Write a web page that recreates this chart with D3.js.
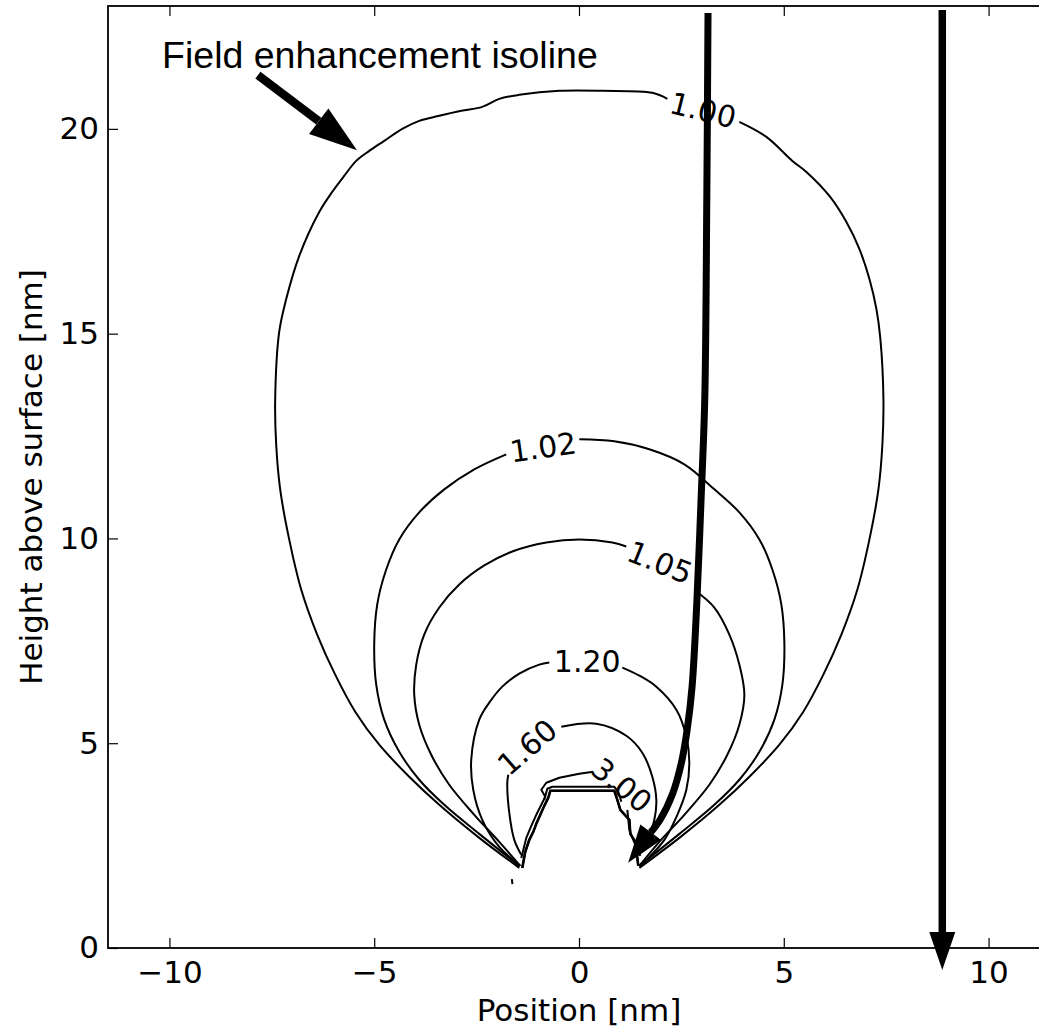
<!DOCTYPE html>
<html>
<head>
<meta charset="utf-8">
<script src="https://cdn.jsdelivr.net/npm/d3@7"></script>
<style>
  body { margin: 0; background: #fff; }
  text { font-family: "DejaVu Sans", sans-serif; fill: #000; }
</style>
</head>
<body>
<div id="chart"></div>
<script>
// ---- data (nm) ----
const xTicks = [-10, -5, 0, 5, 10];
const yTicks = [0, 5, 10, 15, 20];

// isolines, each one split where its label sits
const contour100 = [
  [[-1.458,1.956],[-2.435,2.689],[-3.412,3.496],[-4.145,4.181],[-4.878,4.963],[-5.464,5.770],[-5.953,6.675],
   [-6.393,7.653],[-6.783,8.753],[-7.076,9.976],[-7.296,11.198],[-7.394,12.298],[-7.418,13.399],[-7.321,15.037],
   [-7.149,15.844],[-6.832,16.895],[-6.343,17.971],[-6.026,18.460],[-5.733,18.851],[-5.440,19.218],[-5.122,19.462],
   [-4.756,19.707],[-4.316,20.000],[-3.901,20.196],[-3.412,20.318],[-2.875,20.440],[-2.362,20.538],[-1.947,20.733],
   [-1.458,20.831],[-0.481,20.929],[0.569,20.929],[1.790,20.880],[2.157,20.733]],
  [[3.915,20.171],[4.575,19.804],[5.210,19.218],[5.552,18.949],[6.114,18.362],[6.529,17.726],[6.847,17.066],
   [7.091,16.333],[7.262,15.599],[7.359,14.866],[7.433,13.399],[7.408,12.298],[7.311,11.198],[7.091,9.976],
   [6.797,8.753],[6.406,7.653],[5.966,6.675],[5.477,5.770],[4.893,4.963],[4.160,4.181],[3.427,3.496],
   [2.450,2.689],[1.473,1.956]]
];
const contour102 = [
  [[-1.458,2.005],[-2.435,2.787],[-3.290,3.496],[-3.901,4.108],[-4.389,4.792],[-4.756,5.575],[-4.951,6.430],
   [-5.000,7.408],[-4.927,8.386],[-4.707,9.242],[-4.389,9.976],[-3.901,10.636],[-3.290,11.198],[-2.557,11.687],
   [-1.776,12.054]],
  [[0.007,12.421],[0.862,12.372],[1.717,12.176],[2.572,11.809],[3.305,11.198],[3.915,10.636],[4.404,9.976],
   [4.721,9.242],[4.941,8.386],[5.015,7.408],[4.966,6.430],[4.770,5.575],[4.404,4.792],[3.915,4.108],
   [3.305,3.496],[2.450,2.787],[1.473,2.005]]
];
const contour105 = [
  [[-1.434,2.005],[-1.947,2.592],[-2.557,3.252],[-3.168,3.985],[-3.608,4.719],[-3.901,5.452],[-4.023,6.186],
   [-3.974,6.919],[-3.779,7.653],[-3.412,8.313],[-2.924,8.875],[-2.313,9.340],[-1.629,9.682],[-0.799,9.902],
   [0.007,9.976],[0.813,9.902],[1.155,9.804]],
  [[2.865,8.704],[3.305,8.313],[3.671,7.653],[3.915,6.919],[4.038,6.186],[3.915,5.452],[3.622,4.719],
   [3.183,3.985],[2.572,3.252],[1.961,2.592],[1.473,2.005]]
];
const contour120 = [
  [[-1.434,2.005],[-1.947,2.469],[-2.362,3.130],[-2.582,3.863],[-2.631,4.597],[-2.435,5.575],[-2.191,5.990],
   [-1.873,6.381],[-1.458,6.699],[-0.970,6.919],[-0.725,6.968]],
  [[1.058,6.846],[1.473,6.650],[1.888,6.381],[2.377,5.819],[2.621,5.159],[2.694,4.523],[2.621,3.863],
   [2.401,3.252],[2.084,2.641],[1.717,2.225],[1.473,2.005]]
];
const contour160 = [
  [[-1.409,2.274],[-1.580,2.641],[-1.702,3.301],[-1.751,4.034],[-1.727,4.230]],
  [[-0.432,5.403],[0.423,5.477],[1.155,5.183],[1.546,4.768],[1.790,4.181],[1.888,3.619],[1.839,3.130],
   [1.668,2.641],[1.473,2.274]]
];
const contour300 = [
  [[-1.409,2.200],[-1.287,2.689],[-1.165,2.983],[-1.043,3.252],[-0.921,3.496],[-0.823,3.692],[-0.921,3.863],
   [-0.799,4.034],[-0.481,4.156],[0.007,4.254],[0.349,4.303]],
  [[1.180,3.374],[1.229,2.885],[1.375,2.518],[1.497,2.250]]
];
// the tip outline (highest levels, unlabelled)
const contourTip = [
  [[-1.385,1.956],[-1.312,2.347],[-1.214,2.641],[-1.116,2.836],[-1.043,3.032],[-0.945,3.252],[-0.848,3.472],
   [-0.750,3.668],[-0.701,3.839],[0.862,3.839],[0.936,3.619],[1.009,3.374],[1.229,3.130],[1.253,2.788],
   [1.375,2.592],[1.448,2.005]],
  [[-0.848,3.619],[-0.774,3.888],[-0.652,3.936],[0.862,3.936],[0.960,3.814],[1.035,3.570]],
  [[-1.640,1.680],[-1.625,1.560]]
];

const contourLabels = [
  { text: "1.00", x: 3.03, y: 20.46, angle: 14 },
  { text: "1.02", x: -0.88, y: 12.23, angle: -8 },
  { text: "1.05", x: 1.98, y: 9.42, angle: 22 },
  { text: "1.20", x: 0.20, y: 7.01, angle: 0 },
  { text: "1.60", x: -1.27, y: 4.91, angle: -41 },
  { text: "3.00", x: 1.05, y: 3.98, angle: 39 }
];

// arrows drawn over the plot
const arrowStraight = [[8.87, 22.90], [8.87, -0.54]];
const arrowCurved = [[3.15,22.83],[3.12,18.26],[3.07,13.38],[2.98,10.94],[2.88,8.50],[2.76,6.37],
                     [2.64,5.32],[2.50,4.52],[2.29,3.78],[1.98,3.13],[1.20,2.08]];
const arrowNote = [[-7.84, 21.31], [-5.42, 19.48]];
const noteText = "Field enhancement isoline";
const notePos = [-10.18, 21.48];

// ---- layout ----
const W = 1039, H = 1029;
const plotLeft = 108, plotTop = 6, plotRight = 1050, plotBottom = 948;

const svg = d3.select("#chart").append("svg")
    .attr("width", W)
    .attr("height", H);

const x = d3.scaleLinear().domain([-11.5, 11.5]).range([plotLeft, plotRight]);
const y = d3.scaleLinear().domain([0, 23]).range([plotBottom, plotTop]);

const smoothLine = d3.line().curve(d3.curveCatmullRom.alpha(0.5)).x(d => x(d[0])).y(d => y(d[1]));
const line = d3.line().x(d => x(d[0])).y(d => y(d[1]));

// contours
const smoothContours = [contour100, contour102, contour105, contour120, contour160];
const cg = svg.append("g");
smoothContours.forEach(c => {
    cg.append("g")
        .selectAll("path")
        .data(c)
        .join("path")
        .attr("d", smoothLine)
        .attr("fill", "none")
        .attr("stroke", "#000")
        .attr("stroke-width", 2)
        .attr("stroke-linejoin", "round");
});
[contour300, contourTip].forEach(c => {
    cg.append("g")
        .selectAll("path")
        .data(c)
        .join("path")
        .attr("d", line)
        .attr("fill", "none")
        .attr("stroke", "#000")
        .attr("stroke-width", 2)
        .attr("stroke-linejoin", "round");
});
// the tip top looks heavier
cg.append("path")
    .attr("d", line(contourTip[0]))
    .attr("fill", "none")
    .attr("stroke", "#000")
    .attr("stroke-width", 2.6);

svg.append("g")
    .selectAll("text")
    .data(contourLabels)
    .join("text")
    .attr("transform", d => `translate(${x(d.x)},${y(d.y)}) rotate(${d.angle})`)
    .attr("text-anchor", "middle")
    .attr("dy", "0.36em")
    .style("font-size", "30px")
    .text(d => d.text);

// axes: ticks pointing inwards, frame drawn separately
const fs = "31px";
const xAxis = svg.append("g")
    .attr("transform", `translate(0,${plotBottom})`)
    .call(d3.axisBottom(x).tickValues(xTicks).tickSizeInner(-10).tickSizeOuter(0).tickPadding(13));
const xAxisTop = svg.append("g")
    .attr("transform", `translate(0,${plotTop})`)
    .call(d3.axisTop(x).tickValues(xTicks).tickSizeInner(-10).tickSizeOuter(0).tickFormat(""));
const yAxis = svg.append("g")
    .attr("transform", `translate(${plotLeft},0)`)
    .call(d3.axisLeft(y).tickValues(yTicks).tickSizeInner(-10).tickSizeOuter(0).tickPadding(9));
const yAxisRight = svg.append("g")
    .attr("transform", `translate(${plotRight},0)`)
    .call(d3.axisRight(y).tickValues(yTicks).tickSizeInner(-10).tickSizeOuter(0).tickFormat(""));

[xAxis, xAxisTop, yAxis, yAxisRight].forEach(a => {
    a.select(".domain").remove();
    a.selectAll(".tick line").attr("stroke", "#000").attr("stroke-width", 1.2);
    a.selectAll(".tick text")
        .style("font-family", "'DejaVu Sans', sans-serif")
        .style("font-size", fs)
        .attr("fill", "#000");
});

svg.append("rect")
    .attr("x", plotLeft)
    .attr("y", plotTop)
    .attr("width", plotRight - plotLeft)
    .attr("height", plotBottom - plotTop)
    .attr("fill", "none")
    .attr("stroke", "#000")
    .attr("stroke-width", 1.8);

svg.append("text")
    .attr("x", (plotLeft + plotRight) / 2)
    .attr("y", 1021)
    .attr("text-anchor", "middle")
    .style("font-size", fs)
    .text("Position [nm]");

svg.append("text")
    .attr("transform", `translate(42,${(plotTop + plotBottom) / 2}) rotate(-90)`)
    .attr("text-anchor", "middle")
    .style("font-size", fs)
    .text("Height above surface [nm]");

// arrows
function drawArrow(points, shaft, headLen, headHalf, smooth) {
    const pts = points.map(p => [x(p[0]), y(p[1])]);
    const tip = pts[pts.length - 1];
    const prev = pts[pts.length - 2];
    const dx = tip[0] - prev[0], dy = tip[1] - prev[1];
    const len = Math.hypot(dx, dy);
    const ux = dx / len, uy = dy / len;
    const base = [tip[0] - ux * headLen, tip[1] - uy * headLen];
    const shaftPts = pts.slice(0, -1).concat([base]);
    svg.append("path")
        .attr("d", d3.line().curve(smooth ? d3.curveCatmullRom.alpha(0.5) : d3.curveLinear)(shaftPts))
        .attr("fill", "none")
        .attr("stroke", "#000")
        .attr("stroke-width", shaft);
    const px = -uy, py = ux;
    svg.append("path")
        .attr("d", `M${tip[0]},${tip[1]}L${base[0] + px * headHalf},${base[1] + py * headHalf}L${base[0] - px * headHalf},${base[1] - py * headHalf}Z`)
        .attr("fill", "#000");
}

drawArrow(arrowStraight, 7.5, 38, 13, false);
drawArrow(arrowCurved, 7, 38, 13, true);
drawArrow(arrowNote, 8.5, 48, 16, false);

svg.append("text")
    .attr("x", x(notePos[0]))
    .attr("y", y(notePos[1]))
    .style("font-family", "'Liberation Sans', Arial, sans-serif")
    .style("font-size", "37.5px")
    .text(noteText);
</script>
</body>
</html>
